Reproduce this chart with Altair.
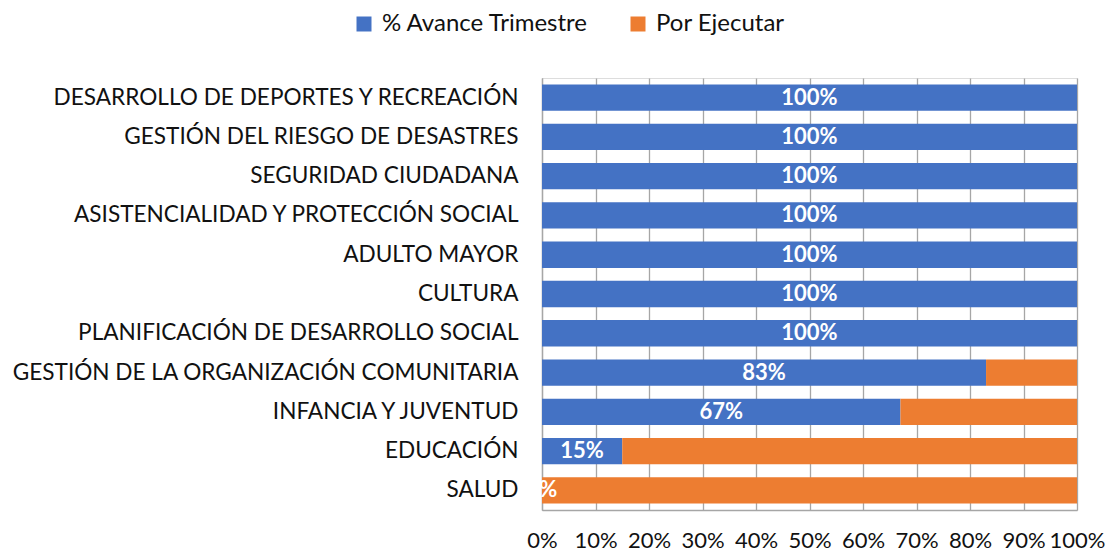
import altair as alt
import pandas as pd

categorias = [
    "DESARROLLO DE DEPORTES Y RECREACIÓN",
    "GESTIÓN DEL RIESGO DE DESASTRES",
    "SEGURIDAD CIUDADANA",
    "ASISTENCIALIDAD Y PROTECCIÓN SOCIAL",
    "ADULTO MAYOR",
    "CULTURA",
    "PLANIFICACIÓN DE DESARROLLO SOCIAL",
    "GESTIÓN DE LA ORGANIZACIÓN COMUNITARIA",
    "INFANCIA Y JUVENTUD",
    "EDUCACIÓN",
    "SALUD",
]
avance = [1.0, 1.0, 1.0, 1.0, 1.0, 1.0, 1.0, 0.83, 0.67, 0.15, 0.0]
por_ejecutar = [0.0, 0.0, 0.0, 0.0, 0.0, 0.0, 0.0, 0.17, 0.33, 0.85, 1.0]
series = ["% Avance Trimestre", "Por Ejecutar"]
colores = ["#4472C4", "#ED7D31"]
ticks = [0, 0.1, 0.2, 0.3, 0.4, 0.5, 0.6, 0.7, 0.8, 0.9, 1.0]

rows = []
for c, a, p in zip(categorias, avance, por_ejecutar):
    rows.append({"cat": c, "serie": series[0], "valor": a, "orden": 0})
    rows.append({"cat": c, "serie": series[1], "valor": p, "orden": 1})
df = pd.DataFrame(rows)
df_lab = pd.DataFrame({"cat": categorias, "valor": avance})

FONT = "Lato"
FS = 22

y_enc = alt.Y(
    "cat:N",
    sort=categorias,
    title=None,
    scale=alt.Scale(paddingInner=0.33, paddingOuter=0.165),
    axis=alt.Axis(
        labelFontSize=22.6, labelFont=FONT, labelColor="#111111", labelPadding=24,
        labelLimit=700, ticks=False, domainColor="#a6a6a6", domainWidth=1.3,
    ),
)

bars = alt.Chart(df).mark_bar().encode(
    y=y_enc,
    x=alt.X(
        "valor:Q",
        stack="zero",
        scale=alt.Scale(domain=[0, 1], nice=False),
        title=None,
        axis=alt.Axis(
            values=ticks, format=".0%", labelFontSize=FS, labelFont=FONT,
            labelColor="#111111", labelPadding=20, ticks=False,
            grid=True, gridColor="#a6a6a6", gridWidth=1.3,
            domainColor="#a6a6a6", domainWidth=1.3, labelFlush=False,
        ),
    ),
    color=alt.Color(
        "serie:N",
        scale=alt.Scale(domain=series, range=colores),
        legend=alt.Legend(
            title=None, orient="none", direction="horizontal",
            legendX=-190, legendY=-66, labelFontSize=24, labelFont=FONT,
            labelColor="#111111", symbolType="square", symbolSize=225,
            symbolStrokeWidth=0, columnPadding=37, labelOffset=6, labelLimit=400,
        ),
    ),
    order=alt.Order("orden:Q"),
)

labels = alt.Chart(df_lab).transform_calculate(
    mid="datum.valor / 2"
).mark_text(
    color="white", fontWeight="bold", fontSize=FS, font=FONT, align="center", baseline="middle"
).encode(
    y=alt.Y("cat:N", sort=categorias),
    x=alt.X("mid:Q"),
    text=alt.Text("valor:Q", format=".0%"),
)

chart = alt.layer(bars, labels).properties(
    width=535, height=432,
    padding={"left": 534, "top": 70, "right": 28, "bottom": 41},
    autosize=alt.AutoSizeParams(type="none"),
).configure_view(stroke=None).configure(background="white")

chart.save("out.html", embed_options={"renderer": "svg", "actions": False})
